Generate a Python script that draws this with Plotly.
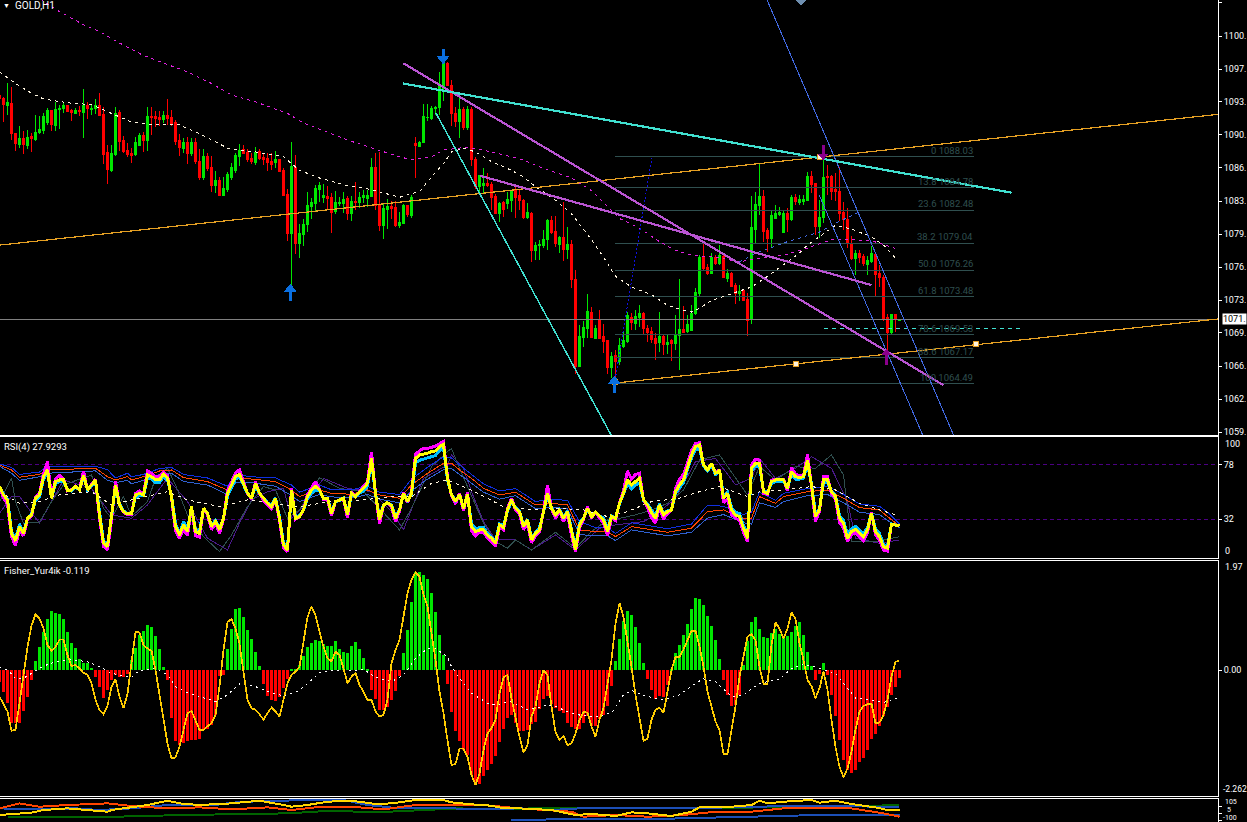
import plotly.graph_objects as go

W, H = 1247, 822
FONT = "Roboto"

# ---------- candles (price units) ----------
direction = list(
    "rrgrrgrgrg" "gggrgggrrg" "rgrggrrrgg" "rrrrggrgrr" "rgrrrrgrgr"
    "rgrrgrgggg" "grrrgrrrrg" "rrrgrggggg" "ggrrgggrgr" "ggggrrggrr"
    "ggrgrggggg" "ggrrrgrgrr" "ggrrrgrggr" "rrgrggggrr" "grgrrgggrg"
    "rrrgrgggrg" "grrrrgrgrg" "grggggrrgr" "grgrrgrrgg" "grrggggrgr"
    "gggrrggrrr" "rrrrgrrggr" "rrrgrg")
body_top = [
1094.4,1094.0,1093.6,1093.5,1090.4,1089.9,1089.9,1090.0,1090.1,1090.5,
1090.8,1092.2,1092.8,1092.8,1092.9,1092.96,1093.3,1093.3,1092.75,1092.8,
1092.85,1093.3,1093.3,1093.0,1093.3,1093.3,1092.4,1088.4,1088.3,1092.5,
1092.6,1089.7,1088.7,1088.3,1089.5,1090.2,1090.2,1092.2,1092.2,1092.2,
1092.1,1092.3,1092.3,1092.1,1091.6,1089.7,1089.5,1089.5,1089.5,1089.5,
1087.5,1088.0,1088.0,1086.9,1085.5,1085.5,1084.7,1086.2,1086.9,1088.1,
1088.7,1088.8,1088.4,1087.8,1088.4,1088.5,1087.9,1087.8,1087.5,1087.7,
1087.7,1086.6,1084.1,1087.0,1086.9,1080.0,1081.0,1082.9,1083.3,1084.7,
1085.0,1084.0,1083.9,1083.8,1083.3,1083.3,1083.6,1083.7,1083.4,1083.4,
1083.8,1084.0,1084.0,1086.9,1086.9,1083.1,1082.6,1082.8,1082.8,1082.7,
1081.2,1082.9,1082.9,1083.8,1089.4,1089.5,1092.2,1092.1,1093.0,1093.1,
1095.3,1097.7,1097.7,1095.4,1092.5,1092.95,1092.95,1092.95,1092.95,1087.7,
1086.1,1085.2,1085.2,1085.1,1083.9,1083.2,1083.3,1083.6,1084.4,1084.5,
1084.0,1083.5,1082.2,1082.1,1078.8,1078.95,1079.4,1081.4,1081.4,1080.3,
1079.6,1079.6,1078.95,1078.95,1075.3,1069.4,1070.35,1072.0,1071.9,1070.2,
1071.1,1069.4,1068.9,1067.3,1067.4,1068.4,1068.9,1071.5,1071.3,1071.4,
1071.7,1071.7,1070.2,1069.9,1069.2,1069.4,1069.4,1068.7,1068.9,1069.6,
1070.1,1070.1,1070.6,1071.8,1073.9,1077.6,1077.6,1076.55,1077.6,1077.6,
1077.8,1077.7,1075.95,1075.95,1074.7,1074.0,1074.1,1073.2,1080.7,1083.1,
1083.9,1083.9,1080.4,1081.9,1082.1,1082.2,1082.1,1082.1,1083.8,1083.8,
1083.6,1083.6,1086.0,1086.0,1085.25,1081.75,1085.9,1086.0,1086.0,1084.65,
1084.45,1082.2,1081.45,1079.0,1078.0,1078.0,1077.7,1077.2,1078.0,1077.9,
1075.85,1075.5,1071.3,1071.6,1071.6,1071.1]
body_bottom = [
1094.0,1093.4,1093.3,1090.4,1089.4,1089.3,1089.3,1089.2,1089.9,1089.8,
1090.5,1090.7,1091.6,1091.3,1091.2,1092.9,1093.0,1092.7,1092.6,1092.5,
1092.7,1092.6,1093.0,1092.9,1093.0,1092.3,1088.2,1086.7,1086.6,1088.2,
1089.6,1088.6,1088.2,1088.1,1088.2,1089.2,1089.7,1089.7,1092.1,1092.0,
1091.9,1091.9,1092.0,1091.5,1089.6,1089.0,1088.9,1088.3,1088.3,1087.5,
1085.9,1085.9,1086.8,1085.0,1085.0,1084.0,1084.0,1084.6,1085.9,1086.6,
1088.0,1088.3,1087.7,1087.5,1087.4,1087.8,1087.7,1087.4,1087.2,1087.4,
1086.5,1084.0,1080.0,1080.0,1079.0,1079.0,1079.9,1081.0,1082.8,1083.2,
1084.6,1083.8,1083.7,1082.2,1082.3,1083.2,1083.2,1082.1,1082.1,1083.3,
1083.3,1083.8,1083.7,1083.9,1083.0,1080.9,1080.9,1082.5,1082.6,1080.9,
1080.9,1081.1,1082.0,1081.9,1089.2,1089.1,1089.5,1092.05,1092.0,1093.0,
1093.1,1095.1,1095.4,1092.5,1091.7,1091.7,1091.05,1091.05,1087.7,1084.9,
1084.9,1085.0,1085.0,1083.8,1082.1,1082.1,1082.5,1083.2,1083.5,1083.8,
1083.5,1081.7,1081.7,1078.3,1078.3,1078.85,1078.8,1079.4,1080.2,1079.05,
1078.95,1078.4,1078.4,1075.3,1066.3,1066.3,1069.3,1070.2,1069.3,1069.2,
1069.2,1068.8,1066.1,1066.1,1066.8,1066.8,1068.3,1068.8,1070.8,1070.7,
1071.3,1070.2,1069.8,1069.1,1068.6,1068.7,1068.5,1068.5,1068.6,1068.6,
1069.5,1069.8,1069.9,1070.0,1071.7,1073.8,1076.45,1075.95,1075.95,1076.9,
1076.9,1075.5,1075.4,1074.6,1073.85,1073.8,1073.1,1071.0,1071.1,1080.5,
1083.0,1080.25,1079.5,1079.5,1081.65,1082.0,1080.2,1081.45,1081.45,1083.4,
1083.3,1083.4,1083.5,1085.1,1080.8,1080.8,1081.7,1085.9,1084.45,1084.35,
1082.15,1081.45,1079.0,1077.5,1077.5,1077.6,1076.9,1076.8,1077.1,1075.75,
1075.45,1071.1,1069.8,1069.8,1071.1,1071.05]
highs = [
1094.5,1094.2,1095.7,1095.2,1090.5,1091.2,1090.7,1090.8,1090.5,1092.3,
1092.2,1092.5,1093.1,1092.9,1093.7,1093.4,1093.7,1093.4,1093.0,1093.1,
1093.3,1095.0,1093.7,1093.5,1094.0,1094.6,1093.2,1089.2,1089.2,1093.2,
1092.9,1090.2,1089.4,1088.9,1090.1,1090.5,1090.6,1093.2,1093.2,1092.7,
1092.7,1092.8,1094.0,1092.9,1091.8,1090.4,1089.9,1090.1,1090.0,1089.9,
1088.8,1088.8,1088.4,1088.1,1086.5,1085.9,1085.9,1086.4,1087.4,1088.4,
1089.3,1089.2,1088.8,1088.4,1089.0,1088.8,1088.3,1088.4,1088.4,1088.6,
1087.7,1086.8,1084.7,1089.5,1088.2,1081.0,1081.6,1084.4,1083.7,1085.1,
1085.4,1085.2,1085.0,1084.2,1084.5,1083.8,1084.4,1083.9,1083.9,1085.4,
1084.4,1084.6,1084.6,1087.9,1088.4,1088.5,1083.1,1083.6,1083.4,1083.4,
1082.3,1083.1,1082.9,1084.0,1090.1,1089.6,1093.5,1093.5,1093.3,1093.3,
1096.8,1098.1,1097.8,1096.0,1093.2,1094.4,1093.2,1093.3,1093.2,1088.0,
1086.1,1086.8,1086.3,1085.4,1084.1,1083.3,1083.4,1084.4,1084.5,1085.1,
1084.7,1083.6,1083.2,1082.3,1079.2,1079.4,1080.4,1081.6,1081.9,1081.9,
1079.8,1083.3,1080.75,1079.4,1076.25,1070.55,1071.0,1073.8,1072.45,1070.55,
1072.1,1070.65,1069.0,1067.8,1068.0,1069.2,1069.9,1071.9,1071.8,1072.1,
1072.6,1071.9,1070.55,1070.4,1069.7,1071.9,1069.5,1069.5,1069.1,1071.6,
1075.3,1072.5,1071.6,1072.6,1074.4,1077.8,1079.2,1076.9,1078.0,1077.8,
1078.85,1078.0,1076.4,1076.1,1074.9,1074.7,1074.2,1073.85,1083.9,1084.35,
1087.4,1084.6,1080.6,1082.5,1083.0,1082.75,1082.5,1082.65,1084.05,1084.15,
1084.05,1084.05,1086.4,1086.5,1085.3,1083.5,1088.2,1087.15,1086.1,1086.3,
1086.9,1083.35,1082.65,1079.8,1078.35,1078.35,1077.9,1077.7,1078.75,1077.9,
1076.8,1075.75,1071.7,1071.7,1071.7,1071.15]
lows = [
1093.9,1091.6,1092.3,1089.7,1088.6,1088.9,1088.3,1088.8,1088.5,1089.6,
1090.4,1090.4,1091.3,1090.7,1090.7,1090.9,1092.5,1092.6,1091.7,1092.4,
1092.2,1090.0,1091.9,1092.3,1092.4,1092.2,1087.3,1085.2,1086.4,1088.1,
1088.6,1088.4,1088.0,1087.4,1088.1,1089.1,1088.5,1088.6,1090.3,1091.1,
1091.2,1091.5,1091.3,1091.2,1089.2,1088.1,1088.4,1087.3,1088.1,1087.3,
1085.6,1085.6,1086.5,1084.3,1084.2,1083.9,1084.0,1084.3,1085.6,1086.3,
1087.0,1088.3,1087.5,1087.3,1087.2,1087.7,1087.2,1086.5,1086.6,1086.8,
1086.4,1083.9,1079.3,1074.5,1077.9,1077.5,1078.8,1080.2,1081.6,1082.3,
1083.3,1083.2,1082.5,1080.1,1082.1,1082.9,1082.2,1081.4,1081.3,1082.5,
1082.7,1083.2,1082.8,1083.9,1082.5,1080.3,1079.5,1080.5,1081.5,1080.7,
1080.6,1081.1,1081.8,1081.7,1085.8,1089.0,1089.4,1091.7,1091.8,1092.3,
1092.3,1093.8,1095.3,1091.2,1091.05,1089.9,1090.8,1090.8,1087.0,1084.7,
1084.1,1084.2,1084.9,1082.5,1082.1,1081.2,1081.8,1082.6,1082.3,1081.7,
1082.5,1081.5,1081.6,1077.1,1077.3,1077.3,1078.5,1078.3,1080.0,1078.6,
1078.0,1077.2,1077.4,1074.4,1065.5,1066.2,1068.3,1069.2,1069.2,1069.1,
1069.1,1067.7,1065.5,1065.1,1064.5,1066.4,1068.2,1068.7,1070.0,1070.0,
1070.4,1069.6,1068.8,1068.65,1066.9,1067.8,1067.4,1067.6,1066.8,1068.0,
1065.9,1069.7,1069.75,1070.0,1071.6,1073.6,1076.15,1075.75,1075.9,1076.8,
1076.8,1075.4,1075.05,1074.45,1072.7,1073.0,1073.0,1069.4,1070.7,1079.0,
1082.0,1079.2,1078.1,1078.5,1081.55,1081.9,1080.1,1080.2,1081.35,1083.0,
1083.0,1083.0,1083.45,1084.2,1079.9,1079.55,1081.15,1084.05,1083.5,1083.4,
1081.3,1080.4,1078.5,1077.3,1075.75,1077.0,1076.7,1075.75,1077.0,1073.5,
1074.55,1071.0,1067.45,1069.6,1069.8,1071.0]

# ---------- moving averages on the price pane ----------
ma_white_x = [0,4,8,11,17,23,28,33,39,45,50,57,64,71,75,80,87,93,100,105,108,111,113,116,119,123,128,131,134,139,143,148,151,154,158,163,167,170,173,175,178,183,188,192,196,200,202,206,209,213,218,221,224]
ma_white = [1096.8,1095.6,1094.6,1094.0,1093.6,1093.4,1092.5,1091.6,1091.3,1091.3,1090.4,1088.9,1088.5,1088.0,1086.6,1085.8,1085.0,1084.6,1083.8,1084.4,1085.9,1087.3,1088.5,1088.9,1088.5,1087.5,1086.6,1085.9,1084.9,1083.5,1082.1,1079.4,1077.6,1075.6,1074.5,1073.7,1072.6,1072.2,1071.9,1072.3,1073.1,1073.8,1074.5,1075.6,1076.8,1078.0,1078.85,1080.06,1080.9,1080.5,1079.7,1078.85,1077.5]
ma_magenta_x = [9,11,15,21,25,30,36,42,47,53,58,64,72,76,83,88,94,100,103,108,111,117,123,130,136,143,148,152,155,160,165,169,173,179,185,190,196,201,204,208,213,218,224]
ma_magenta = [1104.9,1104.1,1103.05,1101.7,1101.0,1099.8,1098.5,1097.6,1096.8,1095.6,1094.4,1093.7,1092.5,1091.5,1090.4,1089.6,1088.8,1088.0,1087.7,1088.0,1088.7,1089.0,1088.5,1087.8,1086.8,1085.8,1084.5,1082.8,1081.6,1080.6,1079.2,1078.3,1077.8,1077.6,1077.1,1077.5,1077.8,1078.4,1078.85,1079.4,1079.4,1079.3,1078.5]
ma_blue_x = [185,189,197,201,205,210,214,215]
ma_blue = [1077.1,1078.0,1079.2,1079.7,1080.2,1081.3,1082.1,1082.3]

# ---------- drawn objects (bar index, price) ----------
orange_upper_x, orange_upper_y = [0.125, 304.625], [1078.85, 1092.4]
orange_lower_x, orange_lower_y = [154.6, 304.625], [1064.57, 1071.18]
anchor_x, anchor_y = [153.9, 199.0, 244.0, 205.0], [1064.6, 1066.5, 1068.55, 1087.95]
cyan_top_x, cyan_top_y = [100.95, 253.0], [1095.6, 1084.28]
cyan_steep_x, cyan_steep_y = [109.1, 152.9], [1092.54, 1059.15]
purple_long_x, purple_long_y = [100.95, 235.95], [1097.7, 1064.33]
purple_short_x, purple_short_y = [120.1, 218.0], [1086.04, 1074.7]
channel_a_x, channel_a_y = [191.9, 238.6], [1104.26, 1059.05]
channel_b_x, channel_b_y = [204.9, 230.8], [1084.04, 1059.15]
dotted_x, dotted_y = [153.9, 163.1], [1064.85, 1087.9]
last_price = 1071.15
dashed_level_x, dashed_level_y = [206.1, 256.1], [1070.2, 1070.2]
fib_x = [153.9, 243.6]
fib_pct = ["0", "13.8", "23.6", "38.2", "50.0", "61.8", "78.6", "88.6", "100"]
fib_val = [1088.03, 1084.78, 1082.48, 1079.04, 1076.26, 1073.48, 1069.53, 1067.17, 1064.49]
price_ticks = [1103.95, 1100.5, 1097.1, 1093.7, 1090.3, 1086.9, 1083.4, 1079.99, 1076.57, 1073.15, 1069.73, 1066.3, 1062.88, 1059.46]
price_tick_text = ["1103.", "1100.", "1097.", "1093.", "1090.", "1086.", "1083.", "1079.", "1076.", "1073.", "1069.", "1066.", "1062.", "1059."]
blue_head_x, blue_head_y = [72.7, 153.7], [1074.29, 1064.75]
blue_stem_x, blue_stem_y = [72.7, 110.9, 153.7], [1073.67, 1098.56, 1064.13]
blue_down_x, blue_down_y = [110.9], [1098.14]
purple_up_x, purple_up_y = [221.7], [1067.65]
purple_down_x, purple_down_y = [205.9], [1088.08]
purple_stem_x, purple_stem_y = [205.9, 221.7], [1088.6, 1067.03]
diamond_x, diamond_y = [200.4], [1104.2]

# ---------- RSI pane ----------
rsi_yellow = [
59.7,52.6,48.4,20.1,13.7,25.8,20.1,32.8,35.7,49.8,52.6,68.1,73.8,49.8,63.9,65.3,65.3,56.8,56.8,59.7,
56.8,69.5,56.8,61.1,65.3,35.7,11.7,8.9,32.8,61.1,44.1,38.5,36.5,36.5,52.6,54.0,52.6,69.5,68.1,65.3,
65.3,70.1,66.7,51.2,25.8,18.7,27.2,21.6,42.7,21.6,20.1,41.3,37.1,25.8,30.0,23.0,32.8,54.0,61.1,68.1,
70.1,62.5,54.0,49.8,62.5,54.0,49.8,45.5,42.7,49.8,32.8,10.3,6.0,56.8,32.8,34.3,39.9,51.2,56.8,59.7,
56.8,49.8,49.8,37.1,47.0,48.4,49.8,35.7,54.0,51.2,55.4,58.2,62.5,83.6,54.0,31.4,44.1,46.1,43.6,32.8,
39.9,54.0,47.0,54.0,83.6,86.5,87.0,87.9,89.3,89.9,93.5,95.5,66.7,52.6,47.0,53.2,41.3,53.2,25.8,21.6,
23.0,23.0,18.7,15.9,11.7,27.2,25.0,39.9,48.4,41.3,38.5,25.8,31.4,14.5,20.1,23.0,38.5,54.0,41.3,35.7,
39.9,32.8,38.5,21.6,6.0,27.2,32.8,41.3,34.3,37.9,34.3,31.4,21.6,34.3,32.8,45.5,54.0,65.3,61.1,63.9,
66.7,48.4,44.1,37.9,32.8,44.1,35.7,38.5,39.9,55.4,61.1,65.3,76.6,86.5,93.5,94.9,78.0,73.8,79.4,70.9,
73.8,49.8,54.0,39.9,35.7,34.3,24.4,15.9,75.2,79.4,79.4,55.4,54.0,63.9,65.3,65.3,65.3,58.2,72.4,68.1,
67.3,68.1,82.2,61.1,34.3,39.9,65.3,65.3,55.4,51.2,32.8,28.6,15.9,21.6,23.5,20.1,17.3,23.0,37.1,21.6,
17.3,8.9,7.5,27.8,27.2,26.4]
rsi_magenta = [
59,50,45,17,10,23,18,32,35,51,54,71,81,50,66,69,66,56,57,60,
57,73,57,62,66,33,9,6,31,64,44,38,36,36,54,56,53,73,71,68,
68,72,69,50,22,16,24,18,43,18,17,41,36,23,29,20,32,56,64,71,
74,63,54,49,64,54,48,44,41,49,31,8,4.5,58,32,34,40,53,59,64,
57,49,49,35,47,48,49,33,55,51,56,60,64,89,54,28,44,46,42,30,
39,55,46,55,87,90,92,92,93,94,96,98,68,52,45,54,39,55,22,18,
21,21,16,13,9,25,23,41,50,40,37,23,29,12,18,21,39,61,41,33,
39,30,37,18,4.5,25,32,43,33,38,33,29,18,33,31,46,56,73,66,70,
71,48,42,33,29,43,32,37,40,58,66,70,80,90,96,97,78,74,79,71,
74,46,49,36,33,31,21,13,78,83,82,54,53,65,66,66,66,56,76,70,
69,69,87,60,30,39,68,68,54,49,29,25,13,19,21,17,14,21,38,19,
14,6,5,28,27,26.4]
rsi_cyan = [
59,53,49,22,15,28,21,33,36,48,51,66,72,50,62,64,64,57,56,59,
57,68,57,60,64,37,13,10,34,59,45,39,37,37,51,52,52,67,66,63,
63,68,65,52,28,20,30,23,42,23,22,41,37,27,31,24,33,52,59,66,
68,61,54,50,60,54,50,46,44,50,34,12,8,55,34,35,40,50,54,57,
56,50,50,38,47,48,50,37,53,51,54,56,60,80,54,33,44,46,44,34,
40,53,48,53,80,82,83,84,85,86,90,93,65,53,48,52,42,52,28,24,
25,25,20,17,13,28,27,39,47,42,39,27,32,16,21,25,38,52,42,36,
40,34,39,24,8,29,33,40,35,38,35,33,24,35,33,45,53,62,58,61,
63,48,45,40,35,45,37,39,40,54,59,63,74,84,91,92,77,73,78,70,
73,52,55,42,38,37,27,18,73,77,77,56,55,62,64,64,64,59,70,66,
66,67,79,62,37,41,63,63,56,52,35,31,19,24,26,23,20,25,37,24,
20,11,9,28,27,26.4]
rsi_band_x = [0,3,5,10,12,17,24,27,29,32,33,36,40,43,46,52,57,59,63,69,73,75,80,83,88,92,95,100,103,107,111,113,115,118,121,125,129,134,138,142,145,149,152,154,158,167,173,177,181,186,188,190,194,196,202,207,211,215,220,222,225]
rsi_center = [78,73.8,67.6,70.1,73.8,74.6,75.2,68.1,65.3,68.1,65.3,68.1,72.9,73.8,67.3,63.9,56.8,66.7,66.1,63.9,56.8,51.2,56.8,54,53.2,56.8,52.6,49.8,61.1,70.9,79.4,79.4,73.8,66.7,58.2,52.6,54.9,44.1,45.5,44.1,23,21.6,21.6,17.3,25.8,21,24.4,38.5,39.9,32.8,32.8,51.2,45.5,51.2,55.4,56.8,49.8,41.9,39.9,34.3,26.4]
rsi_upper = [79,76,70,72,77,77,77,74,67,71,68,70,75,76,70,67,60,70,68,67,61,55,61,57,57,60,55,53,66,76,85,84,78,70,62,56,58,47,49,48,30,25,25,20,29,24,28,44,43,36,38,55,48,54,58,60,53,45,43,38,28]
rsi_lower = [77,71,65,68,71,72,73,65,63,65,62,65,70,71,64,61,53,63,63,60,52,47,53,51,50,53,49,46,56,66,74,75,70,63,55,49,52,41,42,41,19,18,18,14,23,18,21,33,36,29,28,46,42,47,52,53,46,38,36,31,25]
rsi_gray_x = [0,3,4,6,10,13,16,23,26,28,31,33,37,39,42,44,47,51,55,58,62,66,69,72,75,80,85,91,95,100,103,108,112,113,115,118,121,124,127,129,133,139,144,148,152,155,159,163,167,171,175,180,187,190,194,199,204,208,211,213,219,225]
rsi_gray = [47,66.7,47,28.6,29.5,47,61.1,69.5,41.3,32.8,51.2,34.3,47,66.7,75.2,61.1,35.7,17.3,4.6,18.7,42.7,59.7,56.8,32.8,39.9,67.3,58.2,55.4,41.3,23,41.3,76.6,89.3,92,75.2,52.6,28.6,13.1,7.5,14.5,6,21,7.5,21.6,31.4,32.8,35.7,39.9,45.5,56.8,82.2,86.5,52.6,76.6,65.3,76.6,75.2,86.5,69.5,13.1,13.1,17.3]
rsi_purple_x = [0,3,5,10,13,16,23,28,33,37,42,47,52,57,60,63,67,71,73,76,81,87,93,98,101,106,112,113,116,118,121,124,129,133,139,144,150,154,161,164,169,174,179,184,188,190,194,199,203,208,212,214,220,225]
rsi_purple = [37.1,51.2,51.2,28.6,47,65.3,58.2,35.7,32.8,44.1,66.7,47,15.9,6,28.6,48.4,55.4,58.2,32.8,42.7,66.7,58.2,55.4,38.5,23,66.7,78,86.5,75.2,55.4,30,14.5,14.5,6,18.7,6,24.4,27.2,30,35.7,49.8,80.8,83.6,61.1,66.7,83.6,66.7,75.2,85,75.2,47,15.9,11.7,14.5]
rsi_ma_x = [0,5,10,15,23,28,33,42,47,55,62,69,75,83,91,98,103,108,112,113,117,122,126,134,140,146,152,157,163,170,175,180,187,190,196,203,209,215,220,224]
rsi_ma = [55.4,45.5,47,52.6,55.4,44.1,48.4,55.4,48.4,42.7,48.4,45.5,42.7,47,48.4,51.2,51.2,62.5,65.3,63.9,58.2,49.8,42.7,39.9,41.3,39.9,34.3,38.5,47,49.8,55.4,59.7,51.2,55.4,56.8,59.7,56.8,45.5,39.9,35.7]
rsi_levels = [78, 32]

# ---------- Fisher pane ----------
fisher_hist = [
-.21,-.39,-.60,-.96,-.96,-.96,-.75,-.49,-.18,.16,.42,.68,.92,1.07,1.03,1.01,.93,.69,.49,.40,
.20,.13,.13,.04,-.13,-.31,-.51,-.37,-.18,-.09,-.13,-.13,-.08,.18,.40,.63,.71,.81,.78,.61,
.38,.05,-.18,-.87,-1.28,-1.36,-1.32,-1.28,-1.27,-1.27,-1.25,-1.08,-1.07,-.99,-.81,-.11,-.09,.38,.74,1.10,
1.12,.96,.72,.56,.33,.07,-.25,-.47,-.54,-.56,-.48,-.33,-.16,.01,.02,.09,.25,.42,.49,.54,
.52,.47,.43,.43,.52,.38,.33,.31,.43,.51,.38,.22,.01,-.36,-.52,-.72,-.72,-.66,-.54,-.38,
-.11,.31,.72,1.23,1.77,1.77,1.72,1.65,1.39,1.05,.63,.27,-.25,-.76,-1.10,-1.28,-1.45,-1.54,-1.90,-2.06,
-2.06,-1.92,-1.81,-1.70,-1.56,-1.30,-1.07,-.87,-.81,-.96,-1.10,-1.10,-1.08,-.98,-.94,-.71,-.52,-.47,-.61,-.69,
-.74,-.78,-.96,-1.03,-1.07,-1.07,-.96,-.83,-1.01,-1.01,-.89,-.81,-.65,-.29,.16,.56,.89,1.07,.99,.78,
.49,.13,-.17,-.36,-.52,-.47,-.49,-.27,.02,.31,.45,.63,.83,1.10,1.30,1.28,1.18,.98,.80,.54,
.20,-.18,-.45,-.65,-.63,-.45,.09,.52,.87,.96,.74,.60,.58,.67,.74,.65,.58,.61,.69,.80,
.87,.63,.33,.07,-.18,-.07,.13,-.09,-.45,-.83,-1.27,-1.63,-1.80,-1.87,-1.81,-1.66,-1.59,-1.45,-1.25,-1.16,
-1.01,-.84,-.67,-.45,-.31,-.14]
fisher_line = [
-.48,-.61,-.75,-1.10,-1.08,-.60,-.06,.42,.80,1.01,.93,.75,.45,.35,.41,.55,.55,.27,.07,.09,
.03,-.05,-.09,-.24,-.54,-.72,-.80,-.65,-.30,-.17,-.48,-.69,-.43,.18,.69,.68,.45,.39,.35,0,
-.42,-.90,-1.33,-1.60,-1.58,-1.39,-1.08,-.78,-.74,-.90,-1.08,-1.08,-1.02,-.96,-.81,-.30,.36,.87,.92,.75,
.48,-.06,-.54,-.69,-.72,-.80,-.90,-.78,-.68,-.75,-.84,-.54,-.24,-.09,-.03,.06,.54,.96,1.15,.99,
.69,.42,.21,.16,.33,.27,.03,-.24,-.12,-.05,-.27,-.39,-.54,-.54,-.75,-.84,-.81,-.54,.12,.36,
.54,.96,1.39,1.63,1.76,1.69,1.36,1.15,.69,.18,-.39,-.78,-1.27,-1.72,-1.70,-1.42,-1.42,-1.57,-1.90,-2.08,
-1.87,-1.45,-1.15,-1.05,-.90,-.42,-.13,-.09,-.51,-.87,-1.21,-1.49,-1.36,-.84,-.66,-.24,0,-.09,-.66,-1.12,
-1.27,-1.19,-1.36,-1.33,-1.15,-.90,-.76,-.77,-1.02,-1.21,-.90,-.69,-.24,.18,.84,1.21,.96,.54,.06,-.45,
-.90,-1.28,-1.24,-.90,-.72,-.68,-.78,-.42,0,.24,.24,.37,.54,.71,.71,.42,.06,-.39,-.66,-.93,
-1.08,-1.52,-1.52,-1.12,-.66,-.12,.27,.60,.65,.54,.06,-.25,-.25,.45,.86,.75,.57,.75,1.04,.93,
.48,.18,-.18,-.29,-.51,-.33,-.03,-.36,-.90,-1.39,-1.75,-1.94,-1.78,-1.48,-1.08,-.75,-.65,-.62,-.61,-.96,
-.95,-.81,-.54,-.12,.15,.17]
fisher_ma_x = [0,2,4,6,8,11,14,18,22,25,28,33,35,39,42,44,47,50,54,57,60,64,67,71,75,78,80,84,88,91,94,98,101,104,107,109,112,113,115,118,122,124,128,132,134,137,139,143,146,149,153,156,158,162,166,170,174,176,179,183,186,190,195,198,201,205,209,212,214,218,221,225]
fisher_ma = [.06,0,-.15,-.15,-.06,.07,.15,.19,.15,.06,-.06,-.13,-.01,.03,-.09,-.30,-.41,-.48,-.57,-.45,-.25,-.30,-.39,-.47,-.37,-.18,-.05,0,-.01,.01,-.13,-.21,-.09,.21,.39,.39,.24,.06,-.15,-.42,-.60,-.63,-.57,-.72,-.69,-.63,-.66,-.78,-.83,-.84,-.78,-.45,-.37,-.48,-.54,-.45,-.24,-.16,-.21,-.48,-.45,-.24,-.17,.03,.11,.03,-.06,-.33,-.51,-.54,-.59,-.49]

# ---------- bottom pane ----------
low_yellow_x = [0,4,8,11,17,27,28,37,42,45,50,58,65,71,73,77,82,88,94,98,104,111,113,118,123,126,130,138,144,148,154,158,162,168,173,175,183,188,190,192,196,203,205,209,213,219,222,225]
low_yellow = [-21,-7,11,49,72,25,49,119,179,142,119,142,179,119,95,119,165,179,133,142,189,189,156,128,109,72,72,49,-21,-7,-35,16,2,-35,25,86,95,119,179,142,165,189,151,179,133,86,49,49]
low_orange_x = [0,5,10,17,27,33,42,50,58,67,73,79,88,96,104,113,121,130,138,143,146,154,162,171,179,188,196,205,213,221,225]
low_orange = [72,142,95,119,142,105,72,86,58,86,49,86,95,58,119,119,119,72,49,25,-45,-21,-45,-21,25,25,72,72,72,2,-45]
low_blue_x = [0,8,19,25,33,42,54,58,67,75,86,92,100,113,121,130,138,145,154,185,196,225]
low_blue = [72,58,72,49,72,119,119,151,179,179,189,119,72,72,58,72,49,72,72,86,105,95]
low_blue2_x = [128,139,160,179,188,205,225]
low_blue2 = [-91,-82,-82,-54,-45,-21,-21]
low_green_x = [2,13,29,46,60,72,83,94,115,121,134,146,179,205,225]
low_green = [-45,-45,-45,-21,-7,2,39,16,72,58,72,72,72,105,114]

# ---------- colours ----------
UP, DOWN = "#00e600", "#ff0000"
ORANGE, CYAN, PURPLE = "#e6a023", "#40e0d0", "#ba55d3"
BLUE, FIB = "#4169e1", "#2f4f4f"

bars = list(range(len(body_top)))
opens = [b if d == "g" else t for d, t, b in zip(direction, body_top, body_bottom)]
closes = [t if d == "g" else b for d, t, b in zip(direction, body_top, body_bottom)]

fig = go.Figure()


def line(x, y, color, width=1, dash="solid", xa="x", ya="y"):
    fig.add_trace(go.Scatter(x=x, y=y, mode="lines", xaxis=xa, yaxis=ya, hoverinfo="skip",
                             line=dict(color=color, width=width, dash=dash)))


def mark(x, y, symbol, size, color, lw=0, lc=None, ya="y"):
    fig.add_trace(go.Scatter(x=x, y=y, mode="markers", xaxis="x", yaxis=ya, hoverinfo="skip", cliponaxis=True,
                             marker=dict(symbol=symbol, size=size, color=color,
                                         line=dict(width=lw, color=lc or color))))


# price pane
for i, v in enumerate(fib_val):
    line(fib_x, [v, v], FIB)
fig.add_trace(go.Candlestick(x=bars, open=opens, high=highs, low=lows, close=closes, whiskerwidth=0,
                             xaxis="x", yaxis="y", hoverinfo="skip", line=dict(width=1),
                             increasing=dict(line=dict(color=UP, width=1), fillcolor=UP),
                             decreasing=dict(line=dict(color=DOWN, width=1), fillcolor=DOWN)))
line([0.125, 304.625], [last_price, last_price], "#808080")
line(ma_white_x, ma_white, "#fff5e0", 1, "3px,4px")
line(ma_magenta_x, ma_magenta, "#e020e0", 1, "3px,4px")
line(ma_blue_x, ma_blue, BLUE, 1, "3px,4px")
line(dotted_x, dotted_y, "#1010e0", 1, "2px,2px")
line(dashed_level_x, dashed_level_y, CYAN, 1, "4px,4px")
line(orange_upper_x, orange_upper_y, ORANGE, 1.2)
line(orange_lower_x, orange_lower_y, ORANGE, 1.2)
line(channel_a_x, channel_a_y, BLUE, 1)
line(channel_b_x, channel_b_y, BLUE, 1)
line(purple_long_x, purple_long_y, PURPLE, 2.2)
line(purple_short_x, purple_short_y, PURPLE, 2.2)
line(cyan_steep_x, cyan_steep_y, CYAN, 1.5)
line(cyan_top_x, cyan_top_y, CYAN, 2.2)
mark(anchor_x, anchor_y, "square", 5, "#fff5e0", 1, ORANGE)
mark(blue_stem_x, blue_stem_y, "line-ns", 9, "#0a6fe0", 3, "#0a6fe0")
mark(blue_head_x, blue_head_y, "triangle-up", 11, "#0a6fe0")
mark(blue_down_x, blue_down_y, "triangle-down", 11, "#0a6fe0")
mark(purple_stem_x, purple_stem_y, "line-ns", 8, "#8b008b", 3, "#8b008b")
mark(purple_up_x, purple_up_y, "triangle-up", 9, "#8b008b")
mark(purple_down_x, purple_down_y, "triangle-down", 9, "#8b008b")
mark(diamond_x, diamond_y, "diamond", 8, "#6f8fb0")

# RSI pane
for lv in rsi_levels:
    line([0.125, 304.625], [lv, lv], "#4b0082", 1, "4px,3px", "x2", "y2")
line(rsi_purple_x, rsi_purple, "#4a1a8a", 1, "solid", "x2", "y2")
line(rsi_gray_x, rsi_gray, "#2f4f4f", 1, "solid", "x2", "y2")
line(rsi_band_x, rsi_upper, "#1030e0", 1, "solid", "x2", "y2")
line(rsi_band_x, rsi_lower, "#3060d0", 1, "solid", "x2", "y2")
line(rsi_band_x, rsi_center, "#ff4500", 1, "solid", "x2", "y2")
line(rsi_ma_x, rsi_ma, "#fff5e0", 1, "3px,4px", "x2", "y2")
line(bars, rsi_magenta, "#ff00ff", 3, "solid", "x2", "y2")
line(bars, rsi_cyan, "#00bfff", 3, "solid", "x2", "y2")
line(bars, rsi_yellow, "#ffff00", 3, "solid", "x2", "y2")

# Fisher pane
fig.add_trace(go.Bar(x=bars, y=fisher_hist, width=0.75, xaxis="x3", yaxis="y3", hoverinfo="skip",
                     marker=dict(color=[UP if v > 0 else DOWN for v in fisher_hist], line=dict(width=0))))
line(fisher_ma_x, fisher_ma, "#ffffff", 1, "2px,4px", "x3", "y3")
line(bars, fisher_line, "#ffcc00", 1.7, "solid", "x3", "y3")

# bottom pane
line(low_green_x, low_green, "#006400", 2, "solid", "x4", "y4")
line(low_blue2_x, low_blue2, "#1c4fb8", 2, "solid", "x4", "y4")
line(low_blue_x, low_blue, "#1c4fb8", 2, "solid", "x4", "y4")
line(low_orange_x, low_orange, "#ff4500", 2, "solid", "x4", "y4")
line(low_yellow_x, low_yellow, "#ffd700", 2, "solid", "x4", "y4")


def txt(x, y, s, color="#ffffff", size=9, anchor="left"):
    return dict(x=x / W, y=1 - y / H, xref="paper", yref="paper", text=s, showarrow=False,
                xanchor=anchor, yanchor="middle", borderpad=0, font=dict(family=FONT, size=size, color=color))


ann = [txt(2, 6, "▼", size=7), txt(14, 6, "GOLD,H1", size=10),
       txt(3, 447, "RSI(4) 27.9293", size=9.5), txt(3, 570, "Fisher_Yur4ik -0.119", size=9.5),
       txt(1224, 444, "100"), txt(1224, 551, "0"), txt(1224, 567, "1.97"), txt(1222, 789, "-2.262", size=8.5),
       txt(1224, 801.5, "105", size=7), txt(1226, 809.8, "5", size=7), txt(1222, 817.5, "-100", size=7),
       dict(txt(1222, 319, "1071.", color="#000000", size=9), bgcolor="#ffffff")]
for p, v in zip(fib_pct, fib_val):
    ann.append(dict(x=243.6, y=v, xref="x", yref="y", text=f"{p} {v:.2f}", showarrow=False, xanchor="right",
                    yanchor="bottom", borderpad=0, font=dict(family=FONT, size=9.5, color=FIB)))


def xax(anchor, top=False):
    return dict(range=[0.125, 304.625], domain=[0, 1218 / W], anchor=anchor, showticklabels=False, ticks="",
                showgrid=False, zeroline=False, showline=True, linecolor="#ffffff", linewidth=1,
                mirror=top, rangeslider=dict(visible=False), fixedrange=True)


def yax(px_top, px_bot, rng, anchor, vals=None, text=None):
    return dict(range=rng, domain=[1 - px_bot / H, 1 - px_top / H], anchor=anchor, side="right",
                showgrid=False, zeroline=False, showline=True, linecolor="#ffffff", linewidth=1,
                ticks="outside" if vals else "", ticklen=3, tickcolor="#ffffff", tickmode="array",
                tickvals=vals or [], ticktext=text or [], fixedrange=True,
                tickfont=dict(family=FONT, size=9, color="#ffffff"))


fig.update_layout(
    width=W, height=H, margin=dict(l=0, r=0, t=0, b=0, pad=0, autoexpand=False), autosize=False,
    paper_bgcolor="#000000", plot_bgcolor="#000000", showlegend=False, barmode="overlay", boxgap=0.45,
    annotations=ann, dragmode=False,
    xaxis=xax("y"), xaxis2=xax("y2", True), xaxis3=xax("y3", True), xaxis4=xax("y4", False),
    yaxis=yax(0, 435, [1059.15, 1104.26], "x", price_ticks, price_tick_text),
    yaxis2=yax(437, 558, [-0.8, 101.7], "x2", rsi_levels, ["78", "32"]),
    yaxis3=yax(560.5, 796, [-2.278, 1.98], "x3", [0], ["0.00"]),
    yaxis4=yax(798.5, 822, [-119, 210], "x4", [105, 5, -100], ["", "", ""]),
)
fig.update_xaxes(side="bottom")
fig.layout.xaxis4.side = "top"

post = """
document.documentElement.style.cssText='margin:0;padding:0;width:1247px;height:822px;overflow:hidden;background:#000';
document.body.style.cssText='margin:0;padding:0;width:1247px;height:822px;overflow:hidden;background:#000';
var s=document.createElement('style');
s.textContent='.js-plotly-plot svg path{shape-rendering:crispEdges !important;}';
document.head.appendChild(s);
"""
fig.write_html("out.html", post_script=post, config=dict(displayModeBar=False))
